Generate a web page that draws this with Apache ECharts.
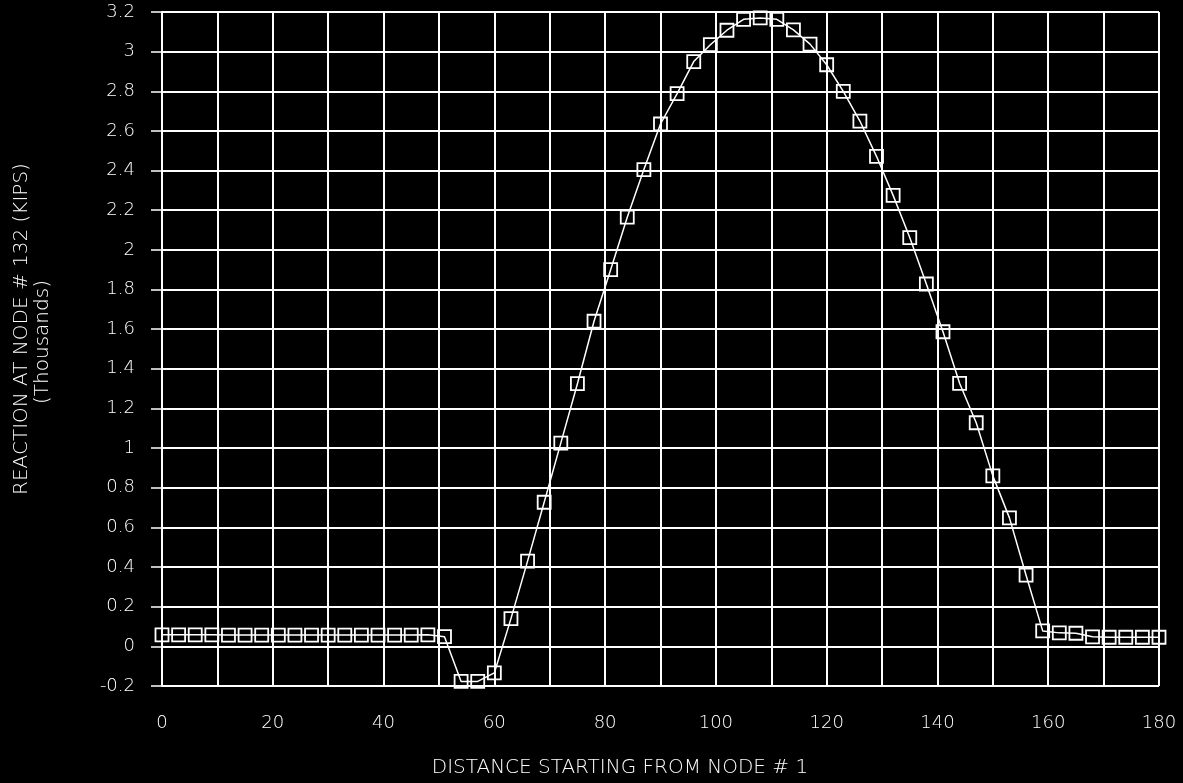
<!DOCTYPE html>
<html>
<head>
<meta charset="utf-8">
<script src="https://cdn.jsdelivr.net/npm/echarts@6/dist/echarts.min.js"></script>
<style>
  html, body { margin: 0; padding: 0; background: #000; }
  #chart { width: 1183px; height: 783px; }
</style>
</head>
<body>
<div id="chart"></div>
<script>
// Distance along the structure (every 3 units)
const distances = [0, 3, 6, 9, 12, 15, 18, 21, 24, 27, 30, 33, 36, 39, 42, 45, 48, 51, 54, 57, 60,
  63, 66, 69, 72, 75, 78, 81, 84, 87, 90, 93, 96, 99, 102, 105, 108, 111, 114, 117, 120,
  123, 126, 129, 132, 135, 138, 141, 144, 147, 150, 153, 156, 159, 162, 165, 168, 171, 174, 177, 180];
// Reaction at node #132 (thousands of kips)
const reactions = [0.058, 0.058, 0.058, 0.058, 0.057, 0.057, 0.057, 0.057, 0.057, 0.057, 0.057, 0.057,
  0.057, 0.057, 0.057, 0.057, 0.058, 0.049, -0.177, -0.177, -0.134,
  0.14, 0.43, 0.727, 1.025, 1.325, 1.64, 1.9, 2.165, 2.405, 2.635, 2.788, 2.95, 3.035, 3.108,
  3.163, 3.17, 3.163, 3.11, 3.038, 2.934, 2.8, 2.65, 2.472, 2.275, 2.062, 1.828, 1.587, 1.327,
  1.128, 0.86, 0.648, 0.359, 0.078, 0.068, 0.066, 0.048, 0.046, 0.046, 0.046, 0.046];
const xTitle = 'DISTANCE STARTING FROM NODE # 1';
const yTitle1 = 'REACTION AT NODE # 132 (KIPS)';
const yTitle2 = '(Thousands)';

const seriesData = distances.map((d, i) => [d, reactions[i]]);
const FONT = 'DejaVu Sans';

const chart = echarts.init(document.getElementById('chart'), null, { renderer: 'canvas' });
chart.setOption({
  animation: false,
  backgroundColor: '#000',
  grid: { left: 162, right: 24, top: 12, bottom: 97, containLabel: false },
  xAxis: {
    type: 'value', min: 0, max: 180, interval: 20,
    axisLine: { show: true, lineStyle: { color: '#fff', width: 2 } },
    axisTick: { show: true, length: 11, lineStyle: { color: '#fff', width: 1.5 } },
    minorTick: { show: true, splitNumber: 2, length: 11, lineStyle: { color: '#fff', width: 1.5 } },
    splitLine: { show: true, lineStyle: { color: '#fff', width: 2 } },
    minorSplitLine: { show: true, lineStyle: { color: '#fff', width: 2 } },
    axisLabel: { color: '#fff', fontFamily: FONT, fontWeight: 300, fontSize: 18, margin: 28 }
  },
  yAxis: {
    type: 'value', min: -0.2, max: 3.2, interval: 0.2,
    axisLine: { show: true, lineStyle: { color: '#fff', width: 2 } },
    axisTick: { show: true, length: 11, lineStyle: { color: '#fff', width: 1.5 } },
    splitLine: { show: true, lineStyle: { color: '#fff', width: 2 } },
    axisLabel: {
      color: '#fff', fontFamily: FONT, fontWeight: 300, fontSize: 18, margin: 27,
      formatter: v => String(+v.toFixed(1))
    }
  },
  graphic: [
    { type: 'text', x: 620, y: 768, style: { text: xTitle, fill: '#fff', font: '300 20px "DejaVu Sans"', align: 'center', verticalAlign: 'middle' } },
    { type: 'text', x: 22, y: 329, rotation: Math.PI / 2, style: { text: yTitle1, fill: '#fff', font: '300 20px "DejaVu Sans"', align: 'center', verticalAlign: 'middle' } },
    { type: 'text', x: 43, y: 342, rotation: Math.PI / 2, style: { text: yTitle2, fill: '#fff', font: '300 20px "DejaVu Sans"', align: 'center', verticalAlign: 'middle' } }
  ],
  series: [{
    type: 'line',
    data: seriesData,
    symbol: 'rect',
    symbolSize: 13,
    showAllSymbol: true,
    lineStyle: { color: '#fff', width: 1.5 },
    itemStyle: { color: 'rgba(0,0,0,0)', borderColor: '#fff', borderWidth: 1.8 },
    emphasis: { disabled: true },
    z: 5
  }]
});
</script>
</body>
</html>
